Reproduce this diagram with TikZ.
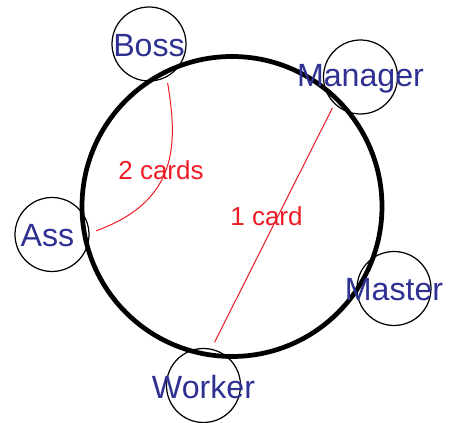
\documentclass[tikz,border=0pt]{standalone}
\usepackage{fontspec}
\setmainfont{Liberation Sans}
\definecolor{roleblue}{RGB}{46,49,146}
\definecolor{cardred}{RGB}{237,28,36}
\begin{document}
\begin{tikzpicture}[
  ring/.style={circle,draw,line width=2.7pt,minimum size=6cm,inner sep=0pt},
  role/.style={circle,draw,line width=0.7pt,minimum size=1.48cm,inner sep=0pt},
  rolename/.style={text=roleblue,font=\fontsize{18.3pt}{20pt}\selectfont,inner sep=0pt,yshift=-0.03cm},
  card/.style={draw=cardred,line width=0.57pt},
  cardtext/.style={text=cardred,font=\fontsize{14.8pt}{17pt}\selectfont,inner sep=0pt}]
  \useasboundingbox (0,0) rectangle (9.02,8.46);
  \node[ring] (table) at (4.64,4.33) {};

  \node[role,label={[rolename]center:Boss}] (boss) at (2.98,7.58) {};
  \node[role,label={[rolename]center:Manager}] (manager) at (7.21,6.92) {};
  \node[role,label={[rolename,xshift=-0.09cm]center:Ass}] (ass) at (1.04,3.77) {};
  \node[role,label={[rolename]center:Master}] (master) at (7.88,2.69) {};
  \node[role,label={[rolename]center:Worker}] (worker) at (4.07,0.75) {};

  \node[cardtext] (twocards) at (3.22,5.06) {2 cards};
  \node[cardtext] (onecard) at (5.33,4.14) {1 card};

  \draw[card,shorten <=0.12cm,shorten >=0.14cm] (boss.-62) .. controls (3.56,5.56) and (3.56,4.44) .. (ass.2);
  \draw[card,shorten <=0.09cm,shorten >=0.14cm] (manager.226) -- (worker.78);
\end{tikzpicture}
\end{document}
